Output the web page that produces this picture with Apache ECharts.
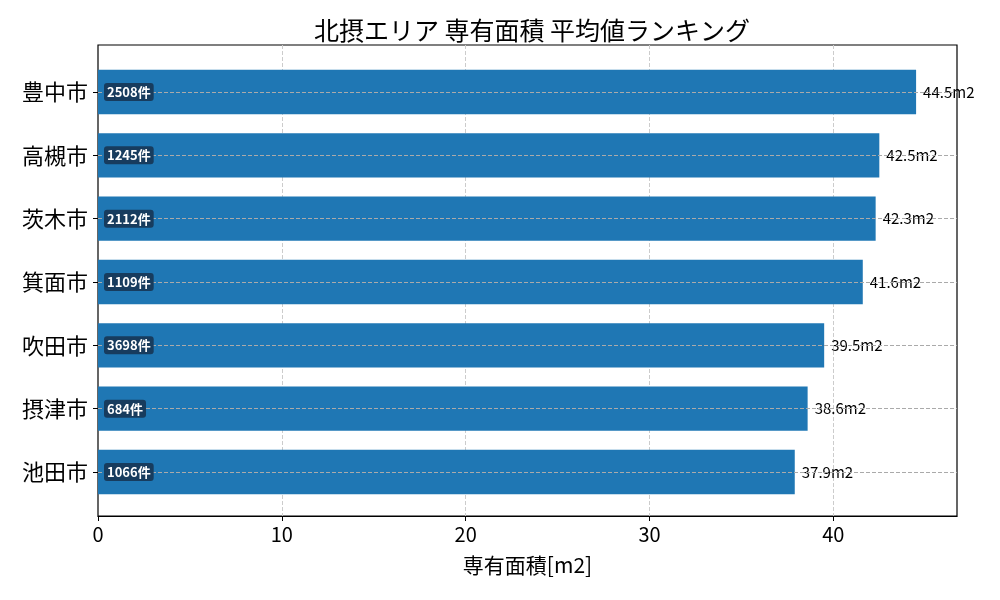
<!DOCTYPE html>
<html>
<head>
<meta charset="utf-8">
<script src="https://cdn.jsdelivr.net/npm/echarts@6/dist/echarts.min.js"></script>
<style>
  html, body { margin: 0; padding: 0; background: #fff; }
  #chart { width: 1000px; height: 600px; }
</style>
</head>
<body>
<div id="chart"></div>
<script>
// data
const cities = ['豊中市', '高槻市', '茨木市', '箕面市', '吹田市', '摂津市', '池田市'];
const areas = [44.5, 42.5, 42.3, 41.6, 39.5, 38.6, 37.9];
const counts = [2508, 1245, 2112, 1109, 3698, 684, 1066];
const xMax = 46.725;

const font = '"Noto Sans CJK JP", "Noto Sans", sans-serif';

const chart = echarts.init(document.getElementById('chart'));

chart.setOption({
    animation: false,
    textStyle: { fontFamily: font },
    title: {
        text: '北摂エリア 専有面積 平均値ランキング',
        left: 527, top: 13, textAlign: 'center',
        textStyle: { fontSize: 25, fontWeight: 'normal', color: '#000', fontFamily: font }
    },
    grid: [
        // bars: category points span the first to last bar centre
        { left: 98, right: 43, top: 92, bottom: 128 },
        // frame + x axis
        { left: 98, right: 43, top: 45, bottom: 84, show: true, borderColor: '#000', borderWidth: 1.2, backgroundColor: 'transparent' }
    ],
    xAxis: [
        { gridIndex: 0, type: 'value', min: 0, max: xMax, show: false },
        {
            gridIndex: 1, type: 'value', min: 0, max: xMax, interval: 10,
            name: '専有面積[m2]', nameLocation: 'middle', nameGap: 39,
            nameTextStyle: { fontSize: 21, color: '#000', fontFamily: font },
            axisLine: { show: true, lineStyle: { color: '#000', width: 1.2 } },
            axisTick: { show: true, length: 5, lineStyle: { color: '#000' } },
            axisLabel: { fontSize: 20, color: '#000', margin: 8, showMaxLabel: false, fontFamily: font },
            splitLine: { show: true, showMinLine: false, showMaxLine: false, lineStyle: { color: '#ccc', type: 'dashed' } }
        }
    ],
    yAxis: [
        {
            gridIndex: 0, type: 'category', data: cities, inverse: true, boundaryGap: false,
            z: 5,
            axisLine: { show: false },
            axisTick: { show: true, length: 5, lineStyle: { color: '#000' } },
            axisLabel: { fontSize: 22, color: '#000', margin: 10, fontFamily: font },
            splitLine: { show: true, lineStyle: { color: '#aaa', type: 'dashed' } }
        },
        { gridIndex: 1, type: 'value', show: false }
    ],
    series: [
        {
            type: 'bar', xAxisIndex: 0, yAxisIndex: 0,
            data: areas, barWidth: '70%',
            itemStyle: { color: '#1f77b4' },
            label: {
                show: true, position: 'right', distance: 7,
                fontSize: 15, color: '#000', fontFamily: font,
                formatter: p => p.value + 'm2'
            }
        },
        {
            type: 'bar', xAxisIndex: 0, yAxisIndex: 0,
            data: areas, barWidth: '70%', barGap: '-100%',
            itemStyle: { color: 'transparent' },
            z: 6,
            label: {
                show: true, position: 'insideLeft', distance: 6,
                fontSize: 13, fontWeight: 'bold', color: '#fff', fontFamily: font,
                backgroundColor: '#173c5e', borderRadius: 3, padding: [3, 3, 2, 3],
                formatter: p => counts[p.dataIndex] + '件'
            }
        }
    ]
});
</script>
</body>
</html>
